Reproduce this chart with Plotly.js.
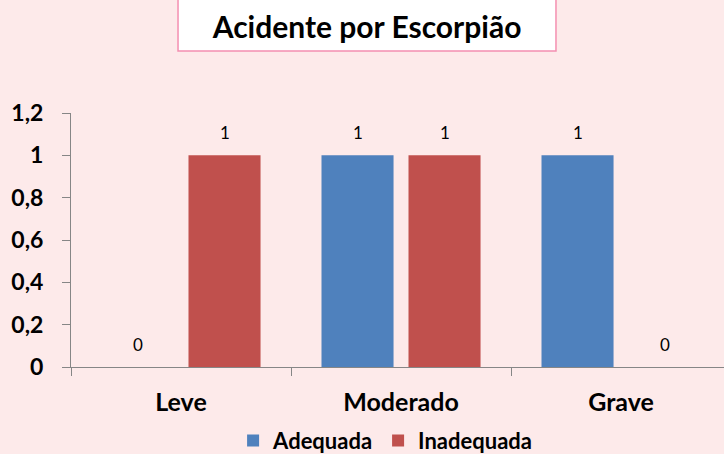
<!DOCTYPE html>
<html>
<head>
<meta charset="utf-8">
<script src="https://cdn.plot.ly/plotly-3.0.1.min.js"></script>
<style>html,body{margin:0;padding:0;background:#fdeaea;}</style>
</head>
<body>
<div id="chart" style="width:724px;height:454px;"></div>
<script>
const categories = ["Leve", "Moderado", "Grave"];
const adequada = [0, 1, 1];
const inadequada = [1, 1, 0];
const seriesNames = ["Adequada", "Inadequada"];
const yTickVals = [0, 0.2, 0.4, 0.6, 0.8, 1, 1.2];
const titleText = "Acidente por Escorpião";

const FONT = "Lato, 'Open Sans', sans-serif";
const series = [adequada, inadequada];
const colors = ["#4f81bd", "#c0504d"];

const traces = series.map((vals, i) => ({
  type: "bar",
  name: seriesNames[i],
  x: categories,
  y: vals,
  marker: {color: colors[i], line: {width: 0}},
  hoverinfo: "none"
}));

const annotations = [];
series.forEach((vals, i) => {
  vals.forEach((v, j) => {
    annotations.push({
      x: categories[j], y: v, xref: "x", yref: "y",
      text: String(v), showarrow: false,
      xshift: i === 0 ? -43.5 : 43.5, yshift: 23,
      font: {family: FONT, size: 17, color: "#000"}
    });
  });
});

const layout = {
  width: 724, height: 454,
  margin: {l: 71, r: 0, t: 113, b: 87, autoexpand: false},
  paper_bgcolor: "#fdeaea",
  plot_bgcolor: "rgba(0,0,0,0)",
  separators: ",.",
  title: {
    text: "<b>" + titleText + "</b>",
    x: 0.507, xanchor: "center", xref: "container",
    y: 0.9405, yanchor: "middle", yref: "container",
    font: {family: FONT, size: 30, color: "#000"}
  },
  shapes: [{
    type: "rect", xref: "paper", yref: "paper",
    x0: 0.1639, x1: 0.7427, y0: 1.2441, y1: 1.48,
    fillcolor: "#ffffff", line: {color: "#f48fb1", width: 1.5}, layer: "below"
  }],
  barmode: "group",
  bargap: 0.209,
  bargroupgap: 0.172,
  showlegend: true,
  legend: {
    orientation: "h", x: 0.481, xanchor: "center", y: -0.29, yanchor: "middle",
    font: {family: FONT, size: 22, color: "#000", weight: "bold"},
    itemwidth: 30, traceorder: "normal", bgcolor: "rgba(0,0,0,0)"
  },
  xaxis: {
    type: "category",
    range: [-0.5, 2.468],
    showline: true, linecolor: "#868686", linewidth: 1,
    ticks: "outside", tickson: "boundaries", ticklen: 8, tickcolor: "#868686",
    tickfont: {family: FONT, size: 25, color: "#000", weight: "bold"},
    ticklabelstandoff: 13,
    showgrid: false, zeroline: false, fixedrange: true,
    automargin: false
  },
  yaxis: {
    range: [0, 1.2],
    tickmode: "array", tickvals: yTickVals,
    tickformat: ",.1~f",
    showline: true, linecolor: "#868686", linewidth: 1,
    ticks: "outside", ticklen: 8, tickcolor: "#868686",
    tickfont: {family: FONT, size: 23, color: "#000", weight: "bold"},
    ticklabelstandoff: 14,
    showgrid: false, zeroline: false, fixedrange: true,
    automargin: false
  },
  annotations: annotations
};

Plotly.newPlot("chart", traces, layout, {displayModeBar: false, staticPlot: true});
</script>
</body>
</html>
